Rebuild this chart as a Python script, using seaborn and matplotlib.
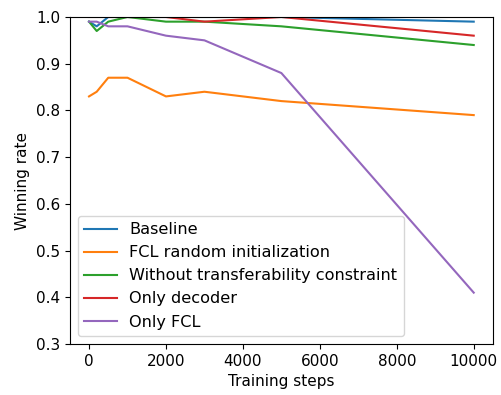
import matplotlib
matplotlib.use("Agg")
import matplotlib.pyplot as plt
import seaborn as sns
import pandas as pd

steps = [0, 200, 500, 1000, 2000, 3000, 5000, 10000]
baseline = [0.99, 0.98, 1.0, 1.0, 1.0, 1.0, 1.0, 0.99]
fcl_random = [0.83, 0.84, 0.87, 0.87, 0.83, 0.84, 0.82, 0.79]
no_transfer = [0.99, 0.97, 0.99, 1.0, 0.99, 0.99, 0.98, 0.94]
only_decoder = [1.0, 1.0, 1.0, 1.0, 1.0, 0.99, 1.0, 0.96]
only_fcl = [0.99, 0.99, 0.98, 0.98, 0.96, 0.95, 0.88, 0.41]

names = ["Baseline", "FCL random initialization", "Without transferability constraint",
         "Only decoder", "Only FCL"]
series = [baseline, fcl_random, no_transfer, only_decoder, only_fcl]

rows = []
for n, vals in zip(names, series):
    for s, v in zip(steps, vals):
        rows.append({"step": s, "rate": v, "method": n})
df = pd.DataFrame(rows)

plt.rcParams["font.size"] = 11
fig, ax = plt.subplots(figsize=(5.02, 3.95), dpi=100)
sns.lineplot(data=df, x="step", y="rate", hue="method", hue_order=names,
             palette=sns.color_palette("tab10", 5), ax=ax, linewidth=1.5)
ax.set_ylim(0.3, 1.0)
ax.set_xlabel("Training steps")
ax.set_ylabel("Winning rate")
ax.legend(loc="lower left", title=None, fontsize=11.6)
fig.subplots_adjust(left=0.139, right=0.982, top=0.957, bottom=0.129)
fig.savefig("out.png", dpi=100)
